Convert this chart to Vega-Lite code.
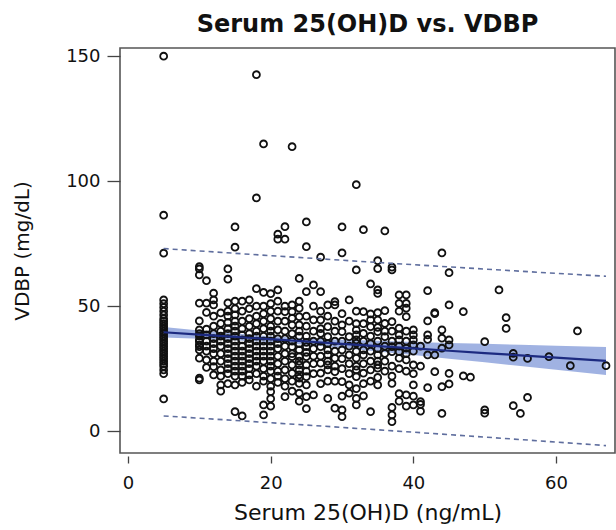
{
"$schema": "https://vega.github.io/schema/vega-lite/v6.json",
"width": 495, "height": 405,
"autosize": {"type": "none"},
"padding": {"left": 120, "top": 48, "right": 1, "bottom": 77},
"title": {"text": "Serum 25(OH)D vs. VDBP", "font": "DejaVu Sans", "fontSize": 24, "fontWeight": "bold", "color": "#111", "anchor": "middle", "offset": 10},
"datasets": {
"fit": [
{"x":5,"fit":39.58,"ciLo":37.48,"ciHi":41.68,"piLo":6.11,"piHi":73.05},
{"x":10,"fit":38.65,"ciLo":36.99,"ciHi":40.31,"piLo":5.21,"piHi":72.09},
{"x":15,"fit":37.73,"ciLo":36.40,"ciHi":39.06,"piLo":4.30,"piHi":71.16},
{"x":20,"fit":36.80,"ciLo":35.60,"ciHi":38.00,"piLo":3.38,"piHi":70.22},
{"x":25,"fit":35.88,"ciLo":34.54,"ciHi":37.22,"piLo":2.45,"piHi":69.31},
{"x":30,"fit":34.95,"ciLo":33.27,"ciHi":36.63,"piLo":1.51,"piHi":68.39},
{"x":35,"fit":34.03,"ciLo":31.91,"ciHi":36.15,"piLo":0.56,"piHi":67.50},
{"x":40,"fit":33.10,"ciLo":30.48,"ciHi":35.72,"piLo":-0.40,"piHi":66.60},
{"x":45,"fit":32.18,"ciLo":29.03,"ciHi":35.33,"piLo":-1.37,"piHi":65.73},
{"x":50,"fit":31.25,"ciLo":27.56,"ciHi":34.94,"piLo":-2.35,"piHi":64.85},
{"x":55,"fit":30.33,"ciLo":26.09,"ciHi":34.57,"piLo":-3.34,"piHi":64.00},
{"x":60,"fit":29.40,"ciLo":24.60,"ciHi":34.20,"piLo":-4.34,"piHi":63.14},
{"x":67,"fit":28.11,"ciLo":22.52,"ciHi":33.70,"piLo":-5.76,"piHi":61.98}
],
"pts": [
{"x":5,"y":150},{"x":5,"y":86.4},{"x":5,"y":71.2},{"x":5,"y":12.9},{"x":5,"y":23},{"x":5,"y":24.5},{"x":5,"y":26},{"x":5,"y":27},{"x":5,"y":28},{"x":5,"y":29},{"x":5,"y":30},{"x":5,"y":31},{"x":5,"y":32},{"x":5,"y":33},{"x":5,"y":34},{"x":5,"y":35},{"x":5,"y":36},{"x":5,"y":37},{"x":5,"y":38},{"x":5,"y":39},{"x":5,"y":40},{"x":5,"y":41},{"x":5,"y":42},{"x":5,"y":43},{"x":5,"y":44},{"x":5,"y":45},{"x":5,"y":46.5},{"x":5,"y":48},{"x":5,"y":49.5},{"x":5,"y":51},{"x":5,"y":52.5},
{"x":10,"y":65.8},{"x":10,"y":64.9},{"x":10,"y":62.5},{"x":10,"y":51.2},{"x":10,"y":44.1},{"x":10,"y":40.5},{"x":10,"y":39},{"x":10,"y":38.1},{"x":10,"y":36.5},{"x":10,"y":35.8},{"x":10,"y":34.5},{"x":10,"y":33.8},{"x":10,"y":32.5},{"x":10,"y":29.2},{"x":10,"y":21.2},{"x":10,"y":20.5},
{"x":11,"y":60.2},{"x":11,"y":51.2},{"x":11,"y":47.5},{"x":11,"y":40.8},{"x":11,"y":38.5},{"x":11,"y":36},{"x":11,"y":34},{"x":11,"y":32},{"x":11,"y":28.5},{"x":11,"y":25.5},
{"x":12,"y":55.2},{"x":12,"y":52.5},{"x":12,"y":50.5},{"x":12,"y":46},{"x":12,"y":42},{"x":12,"y":39},{"x":12,"y":37},{"x":12,"y":35},{"x":12,"y":33},{"x":12,"y":31},{"x":12,"y":28},{"x":12,"y":25.8},{"x":12,"y":22.5},
{"x":13,"y":47.3},{"x":13,"y":43.1},{"x":13,"y":40},{"x":13,"y":38},{"x":13,"y":36},{"x":13,"y":34},{"x":13,"y":31},{"x":13,"y":28},{"x":13,"y":24.5},{"x":13,"y":22},{"x":13,"y":18.5},{"x":13,"y":16},
{"x":14,"y":64.9},{"x":14,"y":60.8},{"x":14,"y":51.3},{"x":14,"y":48},{"x":14,"y":46},{"x":14,"y":43.5},{"x":14,"y":41},{"x":14,"y":39},{"x":14,"y":37},{"x":14,"y":35},{"x":14,"y":33},{"x":14,"y":31},{"x":14,"y":29},{"x":14,"y":27},{"x":14,"y":25},{"x":14,"y":23},{"x":14,"y":19},
{"x":15,"y":81.7},{"x":15,"y":73.6},{"x":15,"y":52},{"x":15,"y":49},{"x":15,"y":46.5},{"x":15,"y":44},{"x":15,"y":42},{"x":15,"y":40},{"x":15,"y":38},{"x":15,"y":36},{"x":15,"y":34},{"x":15,"y":32},{"x":15,"y":30},{"x":15,"y":28},{"x":15,"y":26},{"x":15,"y":24},{"x":15,"y":22},{"x":15,"y":18.5},{"x":15,"y":7.8},
{"x":16,"y":52},{"x":16,"y":48},{"x":16,"y":44},{"x":16,"y":41},{"x":16,"y":38.5},{"x":16,"y":36.5},{"x":16,"y":34},{"x":16,"y":32},{"x":16,"y":30},{"x":16,"y":28},{"x":16,"y":26},{"x":16,"y":24},{"x":16,"y":22},{"x":16,"y":19.5},{"x":16,"y":6.1},
{"x":17,"y":52.5},{"x":17,"y":49},{"x":17,"y":45},{"x":17,"y":42},{"x":17,"y":39},{"x":17,"y":37},{"x":17,"y":35},{"x":17,"y":33},{"x":17,"y":31},{"x":17,"y":29},{"x":17,"y":27},{"x":17,"y":25},{"x":17,"y":22.5},{"x":17,"y":20.5},
{"x":18,"y":142.6},{"x":18,"y":93.3},{"x":18,"y":57},{"x":18,"y":50},{"x":18,"y":46},{"x":18,"y":43},{"x":18,"y":40},{"x":18,"y":38},{"x":18,"y":36},{"x":18,"y":34},{"x":18,"y":32},{"x":18,"y":30},{"x":18,"y":28},{"x":18,"y":26},{"x":18,"y":23},{"x":18,"y":18},
{"x":19,"y":114.9},{"x":19,"y":55.5},{"x":19,"y":50},{"x":19,"y":47},{"x":19,"y":44},{"x":19,"y":41},{"x":19,"y":38},{"x":19,"y":36},{"x":19,"y":34},{"x":19,"y":32},{"x":19,"y":30},{"x":19,"y":28},{"x":19,"y":25},{"x":19,"y":22},{"x":19,"y":20},{"x":19,"y":10.5},{"x":19,"y":6.5},
{"x":20,"y":55},{"x":20,"y":51},{"x":20,"y":48},{"x":20,"y":45},{"x":20,"y":42},{"x":20,"y":40},{"x":20,"y":38},{"x":20,"y":36},{"x":20,"y":34},{"x":20,"y":32},{"x":20,"y":30},{"x":20,"y":28},{"x":20,"y":26},{"x":20,"y":24},{"x":20,"y":21},{"x":20,"y":18},{"x":20,"y":15.8},{"x":20,"y":13},{"x":20,"y":10},
{"x":21,"y":78.8},{"x":21,"y":76.8},{"x":21,"y":56.5},{"x":21,"y":52},{"x":21,"y":48},{"x":21,"y":44},{"x":21,"y":40.5},{"x":21,"y":37},{"x":21,"y":35},{"x":21,"y":33},{"x":21,"y":30},{"x":21,"y":27},{"x":21,"y":24},{"x":21,"y":22},{"x":21,"y":19.5},
{"x":22,"y":81.8},{"x":22,"y":76.8},{"x":22,"y":50},{"x":22,"y":47.8},{"x":22,"y":44},{"x":22,"y":40},{"x":22,"y":37},{"x":22,"y":34},{"x":22,"y":31},{"x":22,"y":28},{"x":22,"y":24.5},{"x":22,"y":21},{"x":22,"y":18},{"x":22,"y":13.8},
{"x":23,"y":113.8},{"x":23,"y":50.5},{"x":23,"y":47.8},{"x":23,"y":45.2},{"x":23,"y":42.5},{"x":23,"y":39},{"x":23,"y":36},{"x":23,"y":33.8},{"x":23,"y":31},{"x":23,"y":29.8},{"x":23,"y":26.5},{"x":23,"y":23.2},{"x":23,"y":20},{"x":23,"y":16},
{"x":24,"y":61.1},{"x":24,"y":52},{"x":24,"y":49.2},{"x":24,"y":45.8},{"x":24,"y":42.5},{"x":24,"y":40},{"x":24,"y":38},{"x":24,"y":35},{"x":24,"y":32.5},{"x":24,"y":29.8},{"x":24,"y":28},{"x":24,"y":26.5},{"x":24,"y":24.5},{"x":24,"y":22.5},{"x":24,"y":21.2},{"x":24,"y":19.1},{"x":24,"y":15.2},{"x":24,"y":12},
{"x":25,"y":83.7},{"x":25,"y":73.8},{"x":25,"y":55.8},{"x":25,"y":46},{"x":25,"y":42},{"x":25,"y":38},{"x":25,"y":35.5},{"x":25,"y":33.8},{"x":25,"y":31.5},{"x":25,"y":29.8},{"x":25,"y":26.5},{"x":25,"y":24},{"x":25,"y":21.8},{"x":25,"y":18.5},{"x":25,"y":13.8},{"x":25,"y":9},
{"x":26,"y":58.5},{"x":26,"y":50},{"x":26,"y":44.5},{"x":26,"y":40},{"x":26,"y":36},{"x":26,"y":33},{"x":26,"y":30},{"x":26,"y":27},{"x":26,"y":23},{"x":26,"y":14.5},
{"x":27,"y":69.6},{"x":27,"y":55.8},{"x":27,"y":48},{"x":27,"y":44.5},{"x":27,"y":41},{"x":27,"y":39.1},{"x":27,"y":36},{"x":27,"y":33.8},{"x":27,"y":30},{"x":27,"y":27.2},{"x":27,"y":23.2},{"x":27,"y":19},
{"x":28,"y":50.5},{"x":28,"y":46},{"x":28,"y":41.8},{"x":28,"y":37.8},{"x":28,"y":35},{"x":28,"y":32.5},{"x":28,"y":30.5},{"x":28,"y":28},{"x":28,"y":26.5},{"x":28,"y":24.5},{"x":28,"y":20},{"x":28,"y":13.1},
{"x":29,"y":51.8},{"x":29,"y":50.5},{"x":29,"y":44},{"x":29,"y":40},{"x":29,"y":36},{"x":29,"y":32},{"x":29,"y":29.2},{"x":29,"y":26},{"x":29,"y":23.8},{"x":29,"y":20},{"x":29,"y":9.2},
{"x":30,"y":81.7},{"x":30,"y":71.3},{"x":30,"y":47},{"x":30,"y":42.5},{"x":30,"y":39.8},{"x":30,"y":36},{"x":30,"y":32.5},{"x":30,"y":29},{"x":30,"y":25},{"x":30,"y":19.8},{"x":30,"y":14},{"x":30,"y":8.5},{"x":30,"y":5.8},
{"x":31,"y":52.5},{"x":31,"y":44},{"x":31,"y":37.8},{"x":31,"y":34},{"x":31,"y":30.5},{"x":31,"y":27},{"x":31,"y":23},{"x":31,"y":18.5},{"x":31,"y":15.2},
{"x":32,"y":98.6},{"x":32,"y":64.5},{"x":32,"y":48},{"x":32,"y":43},{"x":32,"y":40.5},{"x":32,"y":38.5},{"x":32,"y":36.5},{"x":32,"y":35.2},{"x":32,"y":32},{"x":32,"y":29.2},{"x":32,"y":26},{"x":32,"y":24.5},{"x":32,"y":21.8},{"x":32,"y":17},{"x":32,"y":13.1},{"x":32,"y":10.5},
{"x":33,"y":80.6},{"x":33,"y":47.8},{"x":33,"y":43},{"x":33,"y":39.1},{"x":33,"y":36},{"x":33,"y":32.5},{"x":33,"y":30.5},{"x":33,"y":27},{"x":33,"y":23.2},{"x":33,"y":19},{"x":33,"y":14.1},
{"x":34,"y":58.9},{"x":34,"y":46.9},{"x":34,"y":44.5},{"x":34,"y":41.8},{"x":34,"y":38},{"x":34,"y":35},{"x":34,"y":32},{"x":34,"y":28},{"x":34,"y":24.5},{"x":34,"y":20},{"x":34,"y":7.8},
{"x":35,"y":68.2},{"x":35,"y":65},{"x":35,"y":56.5},{"x":35,"y":55.1},{"x":35,"y":47.4},{"x":35,"y":44.5},{"x":35,"y":41.5},{"x":35,"y":39.8},{"x":35,"y":36},{"x":35,"y":33},{"x":35,"y":30.5},{"x":35,"y":28},{"x":35,"y":26.5},{"x":35,"y":25.2},{"x":35,"y":21.5},{"x":35,"y":18.5},
{"x":36,"y":80.1},{"x":36,"y":48.2},{"x":36,"y":43.1},{"x":36,"y":40},{"x":36,"y":37.8},{"x":36,"y":34},{"x":36,"y":31.1},{"x":36,"y":28},{"x":36,"y":24},
{"x":37,"y":65.6},{"x":37,"y":64.5},{"x":37,"y":43.8},{"x":37,"y":40},{"x":37,"y":36},{"x":37,"y":33.8},{"x":37,"y":31.8},{"x":37,"y":26},{"x":37,"y":22},{"x":37,"y":19.1},{"x":37,"y":9.5},{"x":37,"y":6.5},{"x":37,"y":3.8},
{"x":38,"y":54.5},{"x":38,"y":51.1},{"x":38,"y":48},{"x":38,"y":41.2},{"x":38,"y":38.5},{"x":38,"y":36.5},{"x":38,"y":34},{"x":38,"y":31.8},{"x":38,"y":29.2},{"x":38,"y":25},{"x":38,"y":15},{"x":38,"y":12},
{"x":39,"y":54.5},{"x":39,"y":51.1},{"x":39,"y":49.2},{"x":39,"y":45.8},{"x":39,"y":40},{"x":39,"y":36},{"x":39,"y":33.2},{"x":39,"y":31},{"x":39,"y":28.5},{"x":39,"y":24},{"x":39,"y":14.5},{"x":39,"y":10},
{"x":40,"y":40.5},{"x":40,"y":38.5},{"x":40,"y":36.5},{"x":40,"y":34.5},{"x":40,"y":32},{"x":40,"y":26.5},{"x":40,"y":23},{"x":40,"y":18.5},{"x":40,"y":14},{"x":40,"y":10.5},
{"x":41,"y":34},{"x":41,"y":26},{"x":41,"y":11.8},{"x":41,"y":10.7},{"x":41,"y":8},
{"x":42,"y":56.2},{"x":42,"y":44.1},{"x":42,"y":38.5},{"x":42,"y":36.7},{"x":42,"y":30.5},{"x":42,"y":17.4},
{"x":43,"y":47.4},{"x":43,"y":47},{"x":43,"y":30.5},{"x":43,"y":23.8},
{"x":44,"y":71.3},{"x":44,"y":40.5},{"x":44,"y":37.2},{"x":44,"y":33.2},{"x":44,"y":17.8},{"x":44,"y":7.1},
{"x":45,"y":63.4},{"x":45,"y":50.5},{"x":45,"y":36.5},{"x":45,"y":34.5},{"x":45,"y":23.1},{"x":45,"y":18.9},
{"x":47,"y":47.8},{"x":47,"y":22.1},{"x":48,"y":21.6},
{"x":50,"y":35.8},{"x":50,"y":8.5},{"x":50,"y":7.2},
{"x":52,"y":56.5},{"x":53,"y":45.4},{"x":53,"y":41.1},
{"x":54,"y":31.1},{"x":54,"y":29.6},{"x":54,"y":10.2},
{"x":55,"y":7.1},{"x":56,"y":29.1},{"x":56,"y":13.5},
{"x":59,"y":29.8},{"x":62,"y":26.2},{"x":63,"y":40.1},{"x":67,"y":26.2}
]
},
"layer": [
{"data": {"name": "fit"}, "mark": {"type": "area", "color": "#8fa4dd", "opacity": 0.85},
 "encoding": {
  "x": {"field": "x", "type": "quantitative", "title": "Serum 25(OH)D (ng/mL)", "scale": {"domain": [-1.12, 68.26], "nice": false, "zero": false}, "axis": {"values": [0, 20, 40, 60]}},
  "y": {"field": "ciLo", "type": "quantitative", "title": "VDBP (mg/dL)", "scale": {"domain": [-8.72, 153.28], "nice": false, "zero": false}, "axis": {"values": [0, 50, 100, 150]}},
  "y2": {"field": "ciHi"}}},
{"data": {"name": "pts"}, "mark": {"type": "point", "shape": "circle", "filled": false, "stroke": "#111", "strokeWidth": 1.8, "size": 48, "opacity": 1},
 "encoding": {
  "x": {"field": "x", "type": "quantitative", "title": "Serum 25(OH)D (ng/mL)", "axis": {"values": [0, 20, 40, 60]}},
  "y": {"field": "y", "type": "quantitative", "title": "VDBP (mg/dL)", "axis": {"values": [0, 50, 100, 150]}}}},
{"data": {"name": "fit"}, "mark": {"type": "line", "color": "#1c2a80", "strokeWidth": 2.2},
 "encoding": {
  "x": {"field": "x", "type": "quantitative", "title": "Serum 25(OH)D (ng/mL)", "axis": {"values": [0, 20, 40, 60]}},
  "y": {"field": "fit", "type": "quantitative", "title": "VDBP (mg/dL)", "axis": {"values": [0, 50, 100, 150]}}}},
{"data": {"name": "fit"}, "mark": {"type": "line", "color": "#5f6e9e", "strokeWidth": 1.6, "strokeDash": [5, 4]},
 "encoding": {
  "x": {"field": "x", "type": "quantitative", "title": "Serum 25(OH)D (ng/mL)", "axis": {"values": [0, 20, 40, 60]}},
  "y": {"field": "piLo", "type": "quantitative", "title": "VDBP (mg/dL)", "axis": {"values": [0, 50, 100, 150]}}}},
{"data": {"name": "fit"}, "mark": {"type": "line", "color": "#5f6e9e", "strokeWidth": 1.6, "strokeDash": [5, 4]},
 "encoding": {
  "x": {"field": "x", "type": "quantitative", "title": "Serum 25(OH)D (ng/mL)", "axis": {"values": [0, 20, 40, 60]}},
  "y": {"field": "piHi", "type": "quantitative", "title": "VDBP (mg/dL)", "axis": {"values": [0, 50, 100, 150]}}}}
],
"config": {
 "view": {"stroke": "#555", "strokeWidth": 1.6},
 "axis": {"grid": false, "domain": false, "labelFont": "DejaVu Sans", "labelFontSize": 18, "labelColor": "#111", "tickColor": "#444", "tickWidth": 1.3, "titleFont": "DejaVu Sans", "titleFontWeight": "normal", "titleColor": "#111"},
 "axisX": {"offset": 3, "tickSize": 7, "labelPadding": 11, "labelBaseline": "top", "titleFontSize": 22, "titleBaseline": "alphabetic", "titleY": 63},
 "axisY": {"tickSize": 13, "labelPadding": 7, "titleFontSize": 20, "titleBaseline": "alphabetic", "titleAngle": -90, "titleX": -92, "titleAlign": "center"}
}
}
